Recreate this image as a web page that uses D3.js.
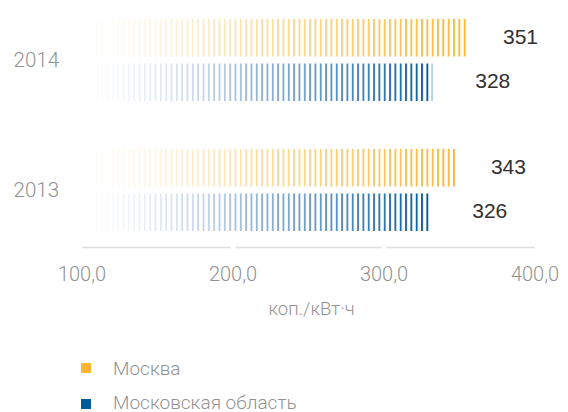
<!DOCTYPE html>
<html><head><meta charset="utf-8">
<script src="https://cdn.jsdelivr.net/npm/d3@7"></script>
<style>
html,body{margin:0;padding:0;background:#fff;}
svg{display:block;}
.lt{font-family:Roboto,"Liberation Sans",Arial,sans-serif;font-weight:300;fill:#929292;}
.val{font-family:"Liberation Sans",Arial,sans-serif;fill:#303030;}
</style></head>
<body>
<svg id="c" width="568" height="412"></svg>
<script>
const years = ["2014", "2013"];
const seriesNames = ["Москва", "Московская область"];
const moscow = [351, 343];
const oblast = [328, 326];
const tickValues = [100, 200, 300, 400];
const tickLabels = ["100,0", "200,0", "300,0", "400,0"];
const axisTitle = "коп./кВт·ч";
const colors = ["#fbb730", "#005a9c"];
const lightColors = ["#fde2b0", "#c9d0ea"];

const rows = [];
years.forEach((yr, i) => {
  rows.push({year: yr, s: 0, v: moscow[i]});
  rows.push({year: yr, s: 1, v: oblast[i]});
});

const svg = d3.select("#c");
const x = d3.scaleLinear().domain([100, 400]).range([88, 541]);
const y = d3.scaleBand().domain(years).range([-5, 255]).paddingInner(0.369).paddingOuter(0.1846);
const ys = d3.scaleBand().domain([0, 1]).range([0, y.bandwidth()]).paddingInner(0.157);

const defs = svg.append("defs");
const pat = defs.append("pattern").attr("id", "stripes").attr("patternUnits", "userSpaceOnUse")
  .attr("x", 0).attr("y", 0).attr("width", 5.33).attr("height", 10);
pat.append("rect").attr("x", 0).attr("y", 0).attr("width", 1.9).attr("height", 10).attr("fill", "#fff");
defs.append("mask").attr("id", "stripeMask").attr("maskUnits", "userSpaceOnUse")
  .attr("x", 0).attr("y", 0).attr("width", 568).attr("height", 412)
  .append("rect").attr("width", 568).attr("height", 412).attr("fill", "url(#stripes)");
colors.forEach((c, i) => {
  const g = defs.append("linearGradient").attr("id", "grad" + i).attr("x1", 0).attr("x2", 1).attr("y1", 0).attr("y2", 0);
  g.append("stop").attr("offset", 0).attr("stop-color", lightColors[i]).attr("stop-opacity", 0);
  g.append("stop").attr("offset", 0.5).attr("stop-color", d3.interpolateRgb(lightColors[i], c)(0.45)).attr("stop-opacity", 0.75);
  g.append("stop").attr("offset", 1).attr("stop-color", c).attr("stop-opacity", 1);
});

// bars
svg.append("g").attr("mask", "url(#stripeMask)")
  .selectAll("rect").data(rows).join("rect")
  .attr("x", x(100))
  .attr("y", d => y(d.year) + ys(d.s))
  .attr("width", d => x(d.v) - x(100))
  .attr("height", ys.bandwidth())
  .attr("fill", d => "url(#grad" + d.s + ")");

// value labels
svg.append("g").selectAll("text").data(rows).join("text")
  .attr("class", "val")
  .attr("x", d => x(d.v) + (d.s === 0 ? 36 : 43))
  .attr("y", d => y(d.year) + ys(d.s) + ys.bandwidth() / 2 + 6)
  .attr("font-size", 21)
  .text(d => d.v);

// year labels
svg.append("g").selectAll("text").data(years).join("text")
  .attr("class", "lt")
  .attr("x", 59).attr("text-anchor", "end")
  .attr("y", d => y(d) + y.bandwidth() / 2 + 7)
  .attr("font-size", 20.5)
  .text(d => d);

// axis baseline segments between ticks
const off = -6;
const segs = d3.pairs(tickValues);
svg.append("g").selectAll("line").data(segs).join("line")
  .attr("x1", (d, i) => x(d[0]) + off + (i === 0 ? 0 : 2.5))
  .attr("x2", (d, i) => x(d[1]) + off - (i === segs.length - 1 ? 0 : 2.5))
  .attr("y1", 247.5).attr("y2", 247.5)
  .attr("stroke", "#dedede").attr("stroke-width", 1.3);

// tick labels
svg.append("g").selectAll("text").data(tickValues).join("text")
  .attr("class", "lt")
  .attr("x", d => x(d) + off).attr("y", 281)
  .attr("text-anchor", "middle").attr("font-size", 20)
  .text((d, i) => tickLabels[i]);

// axis title
svg.append("text").attr("class", "lt")
  .attr("x", (x(100) + x(400)) / 2 + off + 3).attr("y", 315)
  .attr("text-anchor", "middle").attr("font-size", 18.5)
  .text(axisTitle);

// legend
const lg = svg.append("g").selectAll("g").data(seriesNames).join("g")
  .attr("transform", (d, i) => `translate(81, ${363 + i * 36})`);
lg.append("rect").attr("width", 10).attr("height", 10).attr("fill", (d, i) => colors[i]);
lg.append("text").attr("class", "lt").attr("x", 32).attr("y", (d, i) => i === 0 ? 12 : 10).attr("font-size", 19).text(d => d);
</script>
</body></html>
